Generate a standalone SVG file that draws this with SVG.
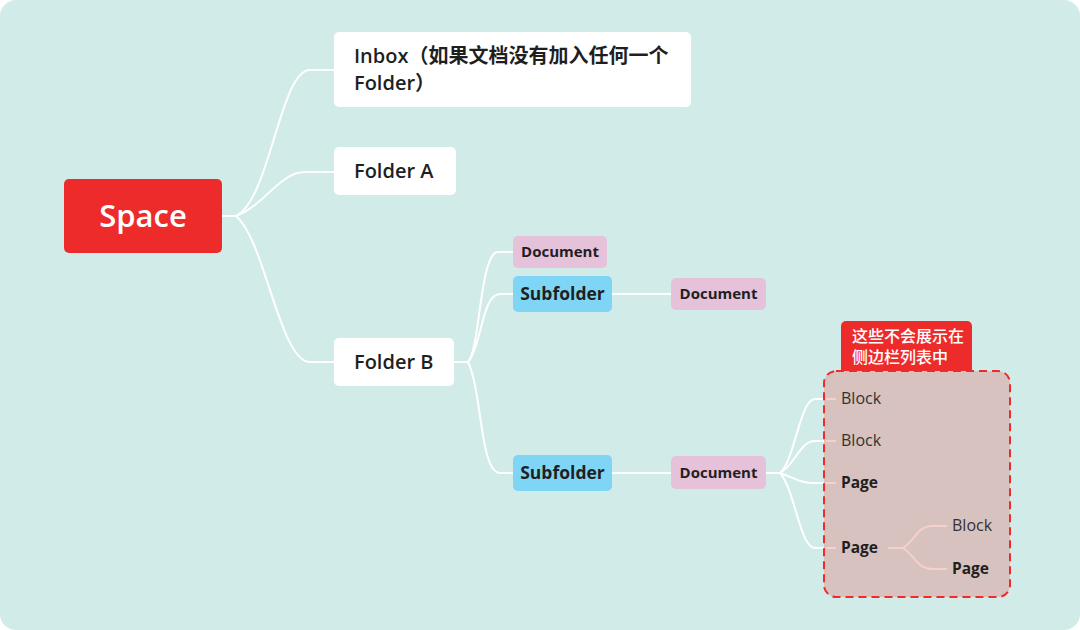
<svg xmlns="http://www.w3.org/2000/svg" width="1080" height="630" viewBox="0 0 1080 630">
<style>
.t{font-family:"Open Sans","Noto Sans CJK SC",sans-serif;fill:#1f1f1f}
.m{font-weight:600;font-size:20px}
.d{font-weight:700;font-size:15px}
.s{font-weight:700;font-size:17.5px}
.b{font-weight:400;font-size:16px;fill:#333}
.p{font-weight:700;font-size:15.5px}
.w{fill:#fff}
.c{fill:none;stroke:#fff;stroke-width:2}
.cp{fill:none;stroke:#F7CFCB;stroke-width:2}
</style>
<rect width="1080" height="630" fill="#fff"/>
<rect width="1080" height="630" rx="16" fill="#D1EBE9"/>
<g id="connectors">
<path class="c" d="M222 216 H236"/>
<path class="c" d="M236 216 C270 200,280 70,310 70 H334"/>
<path class="c" d="M236 216 C265 205,280 172,305 172 H334"/>
<path class="c" d="M236 216 C265 240,280 362,310 362 H334"/>
<path class="c" d="M454 362 H468"/>
<path class="c" d="M468 362 C480 350,480 252,498 252 H513"/>
<path class="c" d="M468 362 C482 345,482 294,500 294 H513"/>
<path class="c" d="M468 362 C482 390,480 473,500 473 H513"/>
<path class="c" d="M612 294 H671"/>
<path class="c" d="M612 473 H671"/>
<path class="c" d="M766 473 H780"/>
<path class="c" d="M780 473 C795 460,800 399,815 399 H826"/>
<path class="c" d="M780 473 C795 465,800 441,815 441 H826"/>
<path class="c" d="M780 473 C795 478,800 483,815 483 H826"/>
<path class="c" d="M780 473 C795 490,800 548,815 548 H826"/>
</g>
<g id="hidden-area">
<rect x="824" y="371" width="186" height="226" rx="12" fill="#D7C2BF" stroke="#EE2B2B" stroke-width="2" stroke-dasharray="8 5"/>
</g>
<g id="hidden-connectors">
<path class="cp" d="M826 399 H836"/>
<path class="cp" d="M826 441 H836"/>
<path class="cp" d="M826 483 H836"/>
<path class="cp" d="M826 548 H836"/>
<path class="cp" d="M888 548 H903"/>
<path class="cp" d="M903 548 C915 540,918 526,932 526 H947"/>
<path class="cp" d="M903 548 C915 556,918 569,932 569 H947"/>
</g>
<g id="space">
<rect x="64" y="179" width="158" height="74" rx="5" fill="#EE2B2B"/>
<text class="t w" x="143" y="227" font-size="31" font-weight="600" text-anchor="middle">Space</text>
</g>
<g id="inbox">
<rect x="334" y="32" width="357" height="75" rx="5" fill="#fff"/>
<text class="t m" x="354" y="63">Inbox（如果文档没有加入任何一个</text>
<text class="t m" x="354" y="90">Folder）</text>
</g>
<g id="folder-a">
<rect x="334" y="147" width="122" height="48" rx="5" fill="#fff"/>
<text class="t m" x="354" y="178">Folder A</text>
</g>
<g id="folder-b">
<rect x="334" y="338" width="120" height="48" rx="5" fill="#fff"/>
<text class="t m" x="354" y="369">Folder B</text>
</g>
<g id="document-1">
<rect x="513" y="236" width="94" height="32" rx="5" fill="#E6C1DA"/>
<text class="t d" x="560" y="257" text-anchor="middle">Document</text>
</g>
<g id="subfolder-1">
<rect x="513" y="276" width="99" height="36" rx="5" fill="#7FD5F5"/>
<text class="t s" x="562.5" y="300" text-anchor="middle">Subfolder</text>
</g>
<g id="document-2">
<rect x="671" y="278" width="95" height="32" rx="5" fill="#E6C1DA"/>
<text class="t d" x="718.5" y="299" text-anchor="middle">Document</text>
</g>
<g id="subfolder-2">
<rect x="513" y="455" width="99" height="36" rx="5" fill="#7FD5F5"/>
<text class="t s" x="562.5" y="479" text-anchor="middle">Subfolder</text>
</g>
<g id="document-3">
<rect x="671" y="456" width="95" height="33" rx="5" fill="#E6C1DA"/>
<text class="t d" x="718.5" y="478" text-anchor="middle">Document</text>
</g>
<g id="note">
<path d="M841 326 a5 5 0 0 1 5 -5 H967 a5 5 0 0 1 5 5 V371 H841 Z" fill="#EE2B2B"/>
<text class="t w" x="852" y="342" font-size="16" font-weight="500">这些不会展示在</text>
<text class="t w" x="852" y="363" font-size="16" font-weight="500">侧边栏列表中</text>
</g>
<g id="block-1"><text class="t b" x="841" y="404">Block</text></g>
<g id="block-2"><text class="t b" x="841" y="446">Block</text></g>
<g id="page-1"><text class="t p" x="841" y="488">Page</text></g>
<g id="page-2"><text class="t p" x="841" y="553">Page</text></g>
<g id="block-3"><text class="t b" x="952" y="531">Block</text></g>
<g id="page-3"><text class="t p" x="952" y="574">Page</text></g>
</svg>
